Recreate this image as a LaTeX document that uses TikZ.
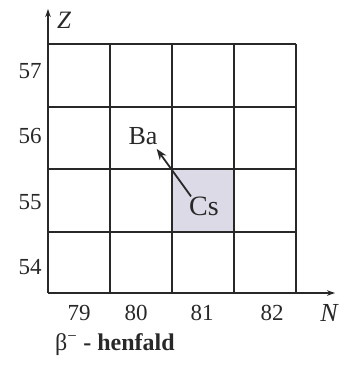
\documentclass[tikz,border=0pt]{standalone}
\usepackage{fontspec}
\setmainfont{Liberation Serif}
\usetikzlibrary{arrows.meta}
\definecolor{gridcol}{RGB}{40,40,40}
\definecolor{cellshade}{RGB}{220,218,230}
\begin{document}
\begin{tikzpicture}[x=1pt,y=-1pt,
  gridline/.style={draw=gridcol,line width=1.3pt},
  axis/.style={draw=gridcol,line width=1.3pt,-{Stealth[length=8pt,width=5.5pt]}},
  num/.style={inner sep=0pt,font=\fontsize{23}{26}\selectfont,text=gridcol},
  elem/.style={inner sep=0pt,text=gridcol},
  decay/.style={draw=gridcol,line width=1.8pt,-{Stealth[length=11pt,width=8pt]}}]
\useasboundingbox (0,0) rectangle (348,369);
% shaded cell
\fill[cellshade] (172,169) rectangle (234,232);
% grid
\foreach \x in {110,172,234,296} \draw[gridline] (\x,44) -- (\x,293);
\foreach \y in {44,107,169,232} \draw[gridline] (48,\y) -- (296,\y);
% axes
\coordinate (O) at (48,293);
\coordinate (Zend) at (48,9);
\coordinate (Nend) at (335,293);
\draw[axis] (O) -- (Zend);
\draw[axis] (O) -- (Nend);
% axis labels
\node[num,font=\fontsize{25}{28}\selectfont\itshape] (Z) at (64,20) {Z};
\node[num,font=\fontsize{26}{28}\selectfont\itshape] (N) at (329,313) {N};
\node[num] (z57) at (30,71) {57};
\node[num] (z56) at (30,136) {56};
\node[num] (z55) at (30,202) {55};
\node[num] (z54) at (30,267) {54};
\node[num] (n79) at (79,313) {79};
\node[num] (n80) at (136,313) {80};
\node[num] (n81) at (202,313) {81};
\node[num] (n82) at (272,313) {82};
% elements
\node[elem,font=\fontsize{26}{28}\selectfont] (Ba) at (143,136) {Ba};
\node[elem,font=\fontsize{28}{30}\selectfont] (Cs) at (204,206) {Cs};
\draw[decay] ([shift={(2,0)}]Cs.north west) -- ([shift={(-1,4)}]Ba.south east);
% caption
\node[anchor=west,inner sep=0pt,text=gridcol,font=\fontsize{24}{28}\selectfont] (cap) at (55,345)
  {β\textsuperscript{−} \textbf{- henfald}};
\end{tikzpicture}
\end{document}
